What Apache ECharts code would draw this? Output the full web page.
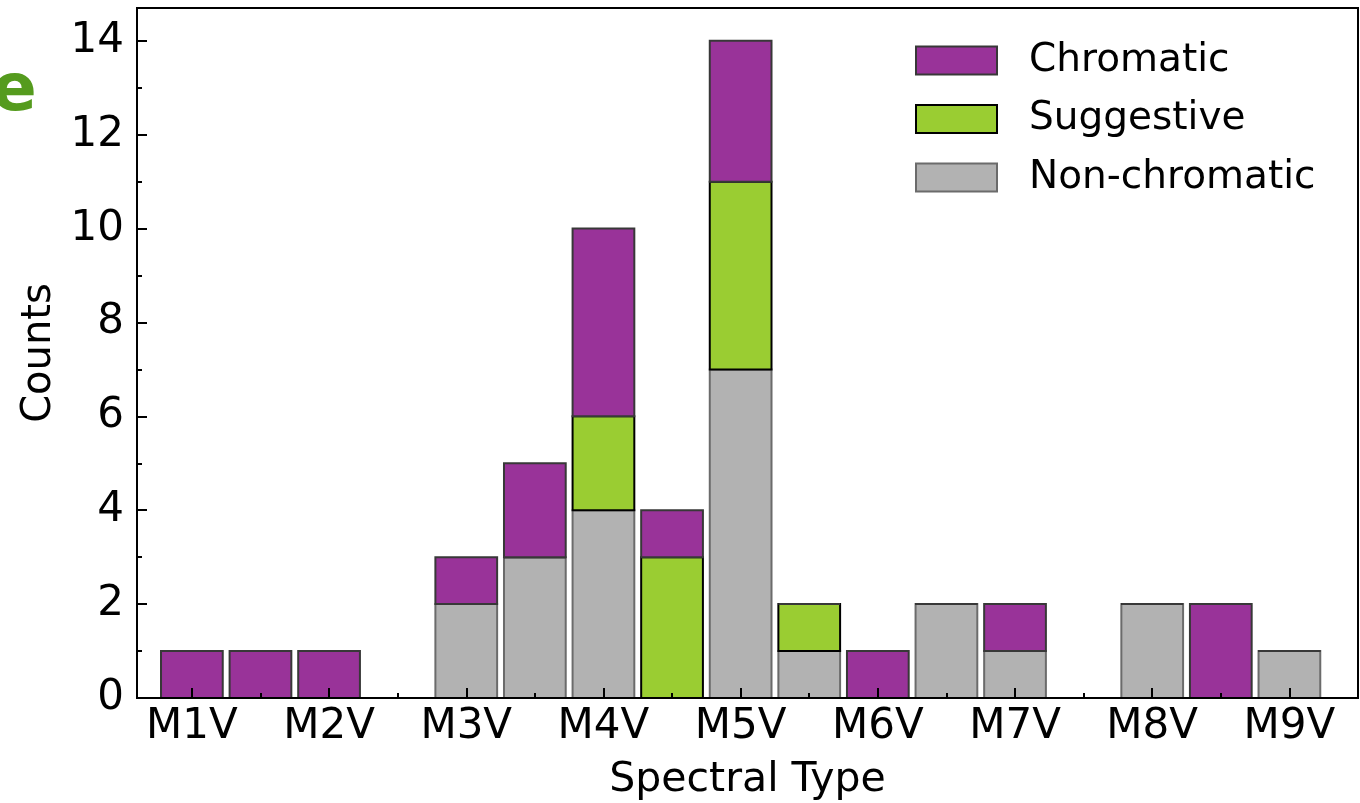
<!DOCTYPE html>
<html>
<head>
<meta charset="utf-8">
<style>
  html, body { margin: 0; padding: 0; background: #ffffff; }
  #chart { width: 1360px; height: 803px; }
</style>
<script src="https://cdn.jsdelivr.net/npm/echarts@6/dist/echarts.min.js"></script>
</head>
<body>
<div id="chart"></div>
<script>
// Spectral sub-types, in steps of half a type (M1V = 1, M1.5V = 1.5, ...)
const spectralTypes = [1, 1.5, 2, 2.5, 3, 3.5, 4, 4.5, 5, 5.5, 6, 6.5, 7, 7.5, 8, 8.5, 9];

// Counts per sub-type for each class (stacked bottom to top)
const nonChromatic = [0, 0, 0, 0, 2, 3, 4, 0, 7, 1, 0, 2, 1, 0, 2, 0, 1];
const suggestive   = [0, 0, 0, 0, 0, 0, 2, 3, 4, 1, 0, 0, 0, 0, 0, 0, 0];
const chromatic    = [1, 1, 1, 0, 1, 2, 4, 1, 3, 0, 1, 0, 1, 0, 0, 2, 0];

// Axis ticks and labels
const xMajorTicks = [1, 2, 3, 4, 5, 6, 7, 8, 9];
const xMinorTicks = [1.5, 2.5, 3.5, 4.5, 5.5, 6.5, 7.5, 8.5];
const xTickLabels = ['M1V', 'M2V', 'M3V', 'M4V', 'M5V', 'M6V', 'M7V', 'M8V', 'M9V'];
const yMajorTicks = [0, 2, 4, 6, 8, 10, 12, 14];
const yMinorTicks = [1, 3, 5, 7, 9, 11, 13];

const FONT = 'DejaVu Sans';
const HALF_BAR = 0.225;   // half of the bar width, in spectral-type units

const styles = {
  'Non-chromatic': { fill: '#b2b2b2', stroke: '#6b6b6b' },
  'Suggestive':    { fill: '#9acd32', stroke: '#000000' },
  'Chromatic':     { fill: '#993399', stroke: '#383838' }
};

// Build [x, base, top] rows for each stacked layer
function layer(values, below) {
  return spectralTypes.map(function (x, i) {
    const base = below.reduce(function (s, arr) { return s + arr[i]; }, 0);
    return [x, base, base + values[i]];
  });
}

function barRenderer(name) {
  const st = styles[name];
  return function (params, api) {
    const x = api.value(0), base = api.value(1), top = api.value(2);
    const p0 = api.coord([x - HALF_BAR, base]);
    const p1 = api.coord([x + HALF_BAR, top]);
    if (top === base) {
      // empty bin: the outline collapses onto a flat edge
      return {
        type: 'line',
        shape: { x1: p0[0], y1: p0[1], x2: p1[0], y2: p1[1] },
        style: { stroke: st.stroke, lineWidth: 2 }
      };
    }
    return {
      type: 'rect',
      shape: { x: p0[0], y: p1[1], width: p1[0] - p0[0], height: p0[1] - p1[1] },
      style: { fill: st.fill, stroke: st.stroke, lineWidth: 2 }
    };
  };
}

function barSeries(name, data) {
  return {
    name: name,
    type: 'custom',
    xAxisIndex: 0,
    yAxisIndex: 0,
    renderItem: barRenderer(name),
    itemStyle: { color: styles[name].fill, borderColor: styles[name].stroke, borderWidth: 2 },
    encode: { x: 0, y: [1, 2] },
    data: data,
    z: 2,
    silent: true
  };
}

const X_MIN = 0.6, X_MAX = 9.5;
const Y_MIN = 0, Y_MAX = 14.7;

const xLabelMap = {};
xMajorTicks.forEach(function (v, i) { xLabelMap[v] = xTickLabels[i]; });

// Plot rectangle shared by the main grid and the minor-tick grid
const PLOT = { left: 137, right: 2, top: 8, height: 690 };

function minorAxis(extra) {
  return Object.assign({
    type: 'value', z: 5,
    splitLine: { show: false },
    axisLine: { show: false },
    axisLabel: { show: false }
  }, extra);
}

const chart = echarts.init(document.getElementById('chart'), null, { renderer: 'canvas' });

chart.setOption({
  animation: false,
  backgroundColor: '#ffffff',
  grid: [
    Object.assign({
      containLabel: false, outerBoundsMode: 'none',
      show: true, borderColor: '#000000', borderWidth: 2, backgroundColor: 'transparent'
    }, PLOT),
    Object.assign({
      containLabel: false, outerBoundsMode: 'none', show: false
    }, PLOT)
  ],
  legend: {
    orient: 'vertical',
    left: 915, top: 41,
    padding: 0,
    itemWidth: 81, itemHeight: 28, itemGap: 19.5,
    icon: 'rect',
    textStyle: { fontFamily: FONT, fontSize: 39, color: '#000000', padding: [0, 0, 0, 27] },
    data: ['Chromatic', 'Suggestive', 'Non-chromatic'].map(function (n) {
      return { name: n, itemStyle: { color: styles[n].fill, borderColor: styles[n].stroke, borderWidth: 2 } };
    }),
    selectedMode: false
  },
  xAxis: [
    {
      type: 'value', gridIndex: 0, min: X_MIN, max: X_MAX, z: 5, position: 'bottom', offset: 0,
      splitLine: { show: false },
      axisLine: { show: true, onZero: false, lineStyle: { color: '#000', width: 2 } },
      axisTick: { show: true, inside: true, length: 10, customValues: xMajorTicks, lineStyle: { color: '#000', width: 2 } },
      axisLabel: {
        show: true, customValues: xMajorTicks, margin: 8,
        fontFamily: FONT, fontSize: 42, color: '#000',
        formatter: function (v) { return xLabelMap[v] || ''; }
      },
      name: 'Spectral Type', nameLocation: 'middle', nameGap: 62, nameMoveOverlap: false,
      nameTextStyle: { fontFamily: FONT, fontSize: 41, color: '#000' }
    },
    minorAxis({
      gridIndex: 1, min: X_MIN, max: X_MAX, position: 'bottom', offset: 0,
      axisTick: { show: true, inside: true, length: 5, customValues: xMinorTicks, lineStyle: { color: '#000', width: 2 } }
    })
  ],
  yAxis: [
    {
      type: 'value', gridIndex: 0, min: Y_MIN, max: Y_MAX, z: 5, position: 'left', offset: 0,
      splitLine: { show: false },
      axisLine: { show: true, onZero: false, lineStyle: { color: '#000', width: 2 } },
      axisTick: { show: true, inside: true, length: 10, customValues: yMajorTicks, lineStyle: { color: '#000', width: 2 } },
      axisLabel: {
        show: true, customValues: yMajorTicks, margin: 13, align: 'right',
        fontFamily: FONT, fontSize: 42, color: '#000'
      },
      name: 'Counts', nameLocation: 'middle', nameGap: 77, nameRotate: 90, nameMoveOverlap: false,
      nameTextStyle: { fontFamily: FONT, fontSize: 40, color: '#000' }
    },
    minorAxis({
      gridIndex: 1, min: Y_MIN, max: Y_MAX, position: 'left', offset: 0,
      axisTick: { show: true, inside: true, length: 5, customValues: yMinorTicks, lineStyle: { color: '#000', width: 2 } }
    })
  ],
  graphic: [
    {
      type: 'text', left: -8, top: 60,
      style: { text: 'e', fontFamily: FONT, fontWeight: 'bold', fontSize: 66, fill: '#559b1e' }
    }
  ],
  series: [
    barSeries('Non-chromatic', layer(nonChromatic, [])),
    barSeries('Suggestive', layer(suggestive, [nonChromatic])),
    barSeries('Chromatic', layer(chromatic, [nonChromatic, suggestive]))
  ]
});
</script>
</body>
</html>
